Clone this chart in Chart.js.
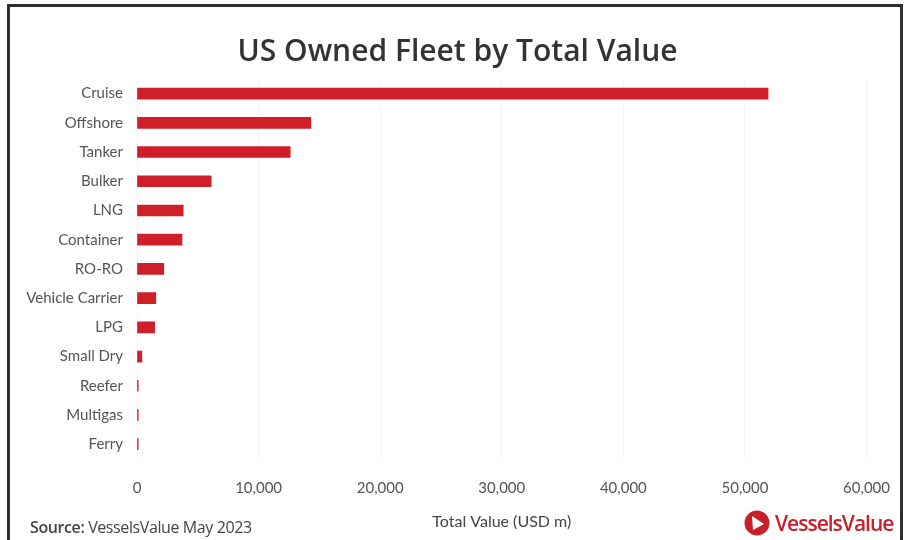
<!DOCTYPE html>
<html>
<head>
<meta charset="utf-8">
<script src="https://cdn.jsdelivr.net/npm/chart.js@4"></script>
<style>
  html, body { margin:0; padding:0; background:#fff; }
  body { width:904px; height:540px; overflow:hidden; position:relative; font-family:"Open Sans", sans-serif; }
  #frame { position:absolute; left:7px; top:4px; width:896px; height:560px; border:3px solid #2e2e2e; border-bottom:none; box-sizing:border-box; }
  #wrap { position:absolute; left:0; top:0; width:904px; height:540px; }
  #source { position:absolute; left:30px; top:516px; font-size:16px; color:#444; letter-spacing:-0.4px; }
  #source b { font-weight:600; }
  #logo { position:absolute; left:744px; top:509px; display:flex; align-items:center; color:#c8202a; font-size:21px; font-weight:600; letter-spacing:-1px; }
  #logo svg { margin-right:5px; }
</style>
</head>
<body>
<div id="wrap"><canvas id="fleet" width="904" height="540"></canvas></div>
<div id="frame"></div>
<div id="source"><b>Source:</b> VesselsValue May 2023</div>
<div id="logo">
  <svg width="26" height="26" viewBox="0 0 26 26"><circle cx="13" cy="13" r="12.5" fill="#c8202a"/><path d="M8 6 L20 14 L9 20 Z" fill="#fff"/></svg>
  <span>VesselsValue</span>
</div>
<script>
const categories = ['Cruise','Offshore','Tanker','Bulker','LNG','Container','RO-RO','Vehicle Carrier','LPG','Small Dry','Reefer','Multigas','Ferry'];
const values = [51900, 14300, 12600, 6100, 3800, 3700, 2200, 1550, 1450, 400, 100, 100, 100];
const xMax = 60000;
const xStep = 10000;

new Chart(document.getElementById('fleet'), {
  type: 'bar',
  data: {
    labels: categories,
    datasets: [{label:'Total Value', data: values, backgroundColor:'#cf1f28', barThickness: 11}]
  },
  options: {
    indexAxis: 'y',
    responsive: false,
    animation: false,
    layout: {padding:{left:11, right:0, top:0, bottom:9}},
    plugins: {
      legend: {display:false},
      tooltip: {enabled:false},
      title: {display:true, text:'US Owned Fleet by Total Value', color:'#333', font:{family:'Open Sans', size:30, weight:'600'}, padding:{top:34, bottom:9}}
    },
    scales: {
      x: {
        min: 0, max: xMax,
        ticks: {stepSize: xStep, color:'#555', padding:14, font:{family:'Lato', size:15}, callback: v => v.toLocaleString('en-US')},
        grid: {color:'#f3f3f3', drawTicks:true, tickLength:6, tickColor:'transparent'},
        border: {display:false},
        title: {display:true, text:'Total Value (USD m)', color:'#444', font:{family:'Lato', size:16}, padding:{top:1, bottom:0}}
      },
      y: {
        ticks: {color:'#555', padding:14, font:{family:'Lato', size:15}},
        grid: {display:false, drawTicks:false},
        border: {display:false},
        afterFit: s => { s.width = 126; }
      }
    }
  }
});
</script>
</body>
</html>
